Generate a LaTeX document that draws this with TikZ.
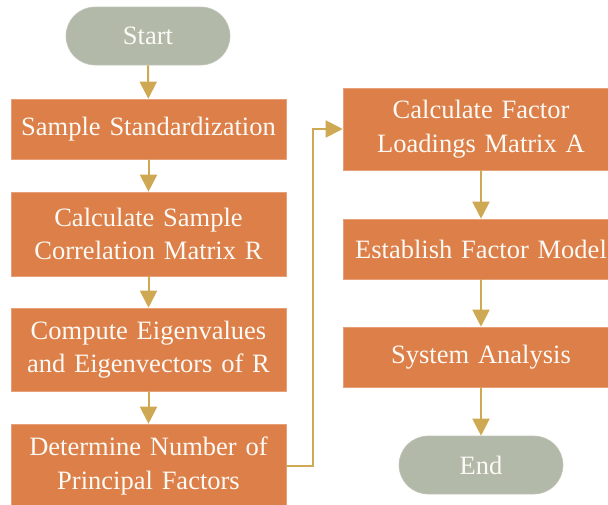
\documentclass[tikz,border=0pt]{standalone}
\usepackage{xcolor}
\usepackage{fontspec}
\setmainfont{Liberation Serif}
\usepackage{tikz}
\usetikzlibrary{arrows.meta}

\definecolor{boxorange}{RGB}{221,127,72}
\definecolor{termgray}{RGB}{178,185,168}
\definecolor{arrowgold}{RGB}{207,168,83}
\definecolor{textwhite}{RGB}{252,250,246}

\begin{document}
\begin{tikzpicture}[x=1pt, y=1pt,
		procbox/.style={rectangle, fill=boxorange, draw=boxorange!75!white, line width=0.6pt,
			minimum width=275pt, text width=270pt, align=center, inner sep=0pt,
			text=textwhite, font=\fontsize{26.5}{33.5}\selectfont},
		terminal/.style={rectangle, rounded corners=29pt, fill=termgray, draw=termgray!80!white,
			line width=0.6pt, minimum width=164pt, minimum height=58pt, inner sep=0pt,
			text=textwhite, font=\fontsize{26.5}{33.5}\selectfont},
		flowarrow/.style={-{Triangle[width=17pt, length=17pt]}, arrowgold, line width=2pt}]
		\useasboundingbox (0,0) rectangle (608,-504);

		% Left column
		\node (start) at (148,-36) [terminal] {Start};
		\node (std) at (148.5,-129) [procbox, minimum height=60pt] {Sample Standardization};
		\node (corr) at (148.5,-234) [procbox, minimum height=84pt]
			{Calculate Sample\\Correlation Matrix R};
		\node (eig) at (148.5,-349.5) [procbox, minimum height=83pt]
			{Compute Eigenvalues\\and Eigenvectors of R};
		\node (num) at (148.5,-466) [procbox, minimum height=84pt]
			{Determine Number of\\Principal Factors};

		% Right column
		\node (load) at (481,-129) [procbox, minimum width=276pt, minimum height=82pt]
			{Calculate Factor\\Loadings Matrix A};
		\node (model) at (481,-249) [procbox, minimum width=276pt, minimum height=60pt]
			{Establish Factor Model};
		\node (sys) at (481,-357) [procbox, minimum width=276pt, minimum height=60pt]
			{System Analysis};
		\node (end) at (481,-465) [terminal] {End};

		% Connectors
		\draw [flowarrow] (start) -- (std);
		\draw [flowarrow] (std) -- (corr);
		\draw [flowarrow] (corr) -- (eig);
		\draw [flowarrow] (eig) -- (num);
		\coordinate (bend) at (313,-466);
		\draw [flowarrow] (num.east) -- (bend) |- (load.west);
		\draw [flowarrow] (load) -- (model);
		\draw [flowarrow] (model) -- (sys);
		\draw [flowarrow] (sys) -- (end);
	\end{tikzpicture}
\end{document}
